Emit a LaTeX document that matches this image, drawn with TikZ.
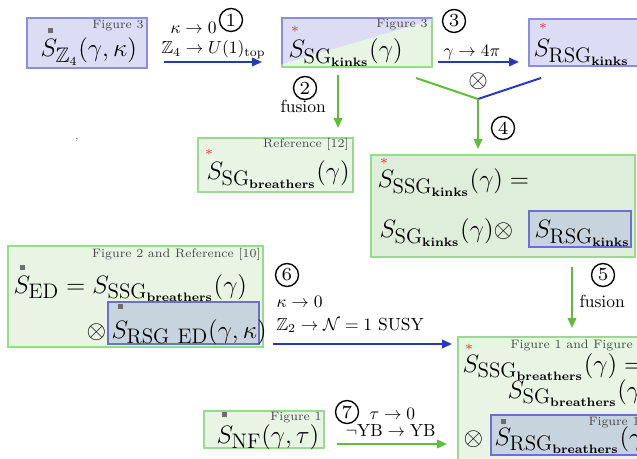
\RequirePackage{fix-cm}
\documentclass[tikz,border=0pt]{standalone}
\usepackage{amsmath,amssymb,graphicx}
\usetikzlibrary{arrows.meta,fit}
\DeclareMathSizes{14.4}{14.4}{12}{7}
\definecolor{bfill}{RGB}{220,221,245}
\definecolor{bline}{RGB}{140,140,230}
\definecolor{gfill}{RGB}{232,245,228}
\definecolor{gfilldark}{RGB}{222,238,218}
\definecolor{gline}{RGB}{150,220,140}
\definecolor{ifill}{RGB}{199,212,221}
\definecolor{iline}{RGB}{110,110,205}
\definecolor{barrow}{RGB}{40,55,190}
\definecolor{garrow}{RGB}{95,190,55}
\definecolor{markgray}{RGB}{110,110,110}
\definecolor{starred}{RGB}{235,50,70}
\newcommand\MT[1]{\scalebox{0.7}{\fontsize{14.4}{17}\selectfont$#1$}}
\newcommand\FT[1]{\scalebox{0.7}{\fontsize{7}{8}\selectfont #1}}
\newcommand\AT[1]{\scalebox{0.7}{\fontsize{10}{12}\selectfont #1}}
\tikzset{
 bbox/.style={draw=bline, fill=bfill, line width=0.5pt, inner sep=0pt},
 gbox/.style={draw=gline, fill=gfill, line width=0.5pt, inner sep=0pt},
 ibox/.style={draw=iline, fill=ifill, line width=0.5pt, inner sep=0pt},
 mtext/.style={anchor=base west, inner sep=0pt},
 figlab/.style={anchor=base east, inner sep=0pt, text=black!72},
 arrlab/.style={anchor=base west, inner sep=0pt},
 circnum/.style={circle, draw, line width=0.55pt, minimum size=9.2pt, inner sep=0pt, font=\fontsize{7.4}{8}\selectfont},
 starmark/.style={inner sep=0pt, text=starred, font=\fontsize{5.5}{6}\selectfont},
 sqmark/.style={fill=markgray, minimum size=2pt, inner sep=0pt},
 barr/.style={draw=barrow, line width=0.8pt, -{Triangle[length=4pt,width=3.4pt]}},
 garr/.style={draw=garrow, line width=0.8pt, -{Triangle[length=4pt,width=3.4pt]}},
}
\begin{document}
\begin{tikzpicture}[x=0.4pt,y=-0.4pt]
\useasboundingbox (0,0) rectangle (637,458);
\clip (0,0) rectangle (637,458);

% ---- boxes ----
\node[bbox, fit={(27,18)(147,68)}] (z4) {};
\node[gbox, fit={(282,18)(432,67)}] (sgk) {};
\fill[bfill] (282,18) -- (432,18) -- (432,20) -- (282,64) -- cycle;
\draw[bline, line width=0.5pt] (282,64) -- (282,18) -- (432,18);
\node[bbox, fit={(529,19)(660,66)}] (rsgk) {};
\node[gbox, fit={(198,138)(353,192)}] (sgb) {};
\node[gbox, fill=gfilldark, fit={(371,155)(635,257)}] (ssgk) {};
\node[ibox, fit={(529,211)(631,247)}] (ssgkin) {};
\node[gbox, fit={(8,246)(263,347)}] (ed) {};
\node[ibox, fit={(108,302)(259,344)}] (edin) {};
\node[gbox, fit={(204,411)(324,448)}] (nf) {};
\node[gbox, fit={(458,337)(660,470)}] (ssgb) {};
\node[ibox, fit={(491,415)(660,455)}] (ssgbin) {};

% ---- box labels ----
\node[figlab] (l1) at (144,29) {\FT{Figure 3}};
\node[figlab] (l2) at (428,28) {\FT{Figure 3}};
\node[figlab] (l3) at (349,148) {\FT{Reference [12]}};
\node[figlab] (l4) at (261,258) {\FT{Figure 2 and Reference [10]}};
\node[figlab] (l5) at (322,420) {\FT{Figure 1}};
\node[figlab, anchor=base west] (l6) at (510,348) {\FT{Figure 1 and Figure 2}};
\node[figlab, anchor=base west] (l7) at (588,425) {\FT{Figure 1}};

% ---- box texts ----
\node[mtext] (t1) at (40,57) {\MT{S_{\mathbb{Z}_4}(\gamma,\kappa)}};
\node[sqmark] (m1) at (50,31) {};
\node[mtext] (t2) at (288,58) {\MT{S_{\mathrm{SG}_{\mathbf{kinks}}}(\gamma)}};
\node[starmark] (s2) at (295,31) {*};
\node[mtext] (t3) at (533,57) {\MT{S_{\mathrm{RSG}_{\mathbf{kinks}}}}};
\node[starmark] (s3) at (543,28) {*};
\node[mtext] (t4) at (206,180) {\MT{S_{\mathrm{SG}_{\mathbf{breathers}}}(\gamma)}};
\node[starmark] (s4) at (209,154) {*};
\node[mtext] (t5) at (377,188) {\MT{S_{\mathrm{SSG}_{\mathbf{kinks}}}(\gamma) =}};
\node[starmark] (s5) at (384,163) {*};
\node[mtext] (t6) at (379,238) {\MT{S_{\mathrm{SG}_{\mathbf{kinks}}}(\gamma) \otimes}};
\node[mtext] (t7) at (534,238) {\MT{S_{\mathrm{RSG}_{\mathbf{kinks}}}}};
\node[mtext] (t8) at (13,293) {\MT{S_{\mathrm{ED}} = S_{\mathrm{SSG}_{\mathbf{breathers}}}(\gamma)}};
\node[sqmark] (m8) at (22,267) {};
\node[mtext] (t9) at (86,338) {\MT{\otimes}};
\node[mtext] (t10) at (111,338) {\MT{S_{\mathrm{RSG\ ED}}(\gamma,\kappa)}};
\node[sqmark] (m10) at (120,306) {};
\node[mtext] (t11) at (216,443) {\MT{S_{\mathrm{NF}}(\gamma,\tau)}};
\node[sqmark] (m11) at (224,414) {};
\node[mtext] (t12) at (462,372) {\MT{S_{\mathrm{SSG}_{\mathbf{breathers}}}(\gamma) =}};
\node[starmark] (s12) at (469,349) {*};
\node[mtext] (t13) at (507,398) {\MT{S_{\mathrm{SG}_{\mathbf{breathers}}}(\gamma)}};
\node[mtext] (t14) at (463,445) {\MT{\otimes}};
\node[mtext] (t15) at (494,445) {\MT{S_{\mathrm{RSG}_{\mathbf{breathers}}}(\gamma)}};
\node[sqmark] (m15) at (503,421) {};

% ---- stray comma ----
\node[inner sep=0pt, text=black!60, font=\fontsize{4}{4}\selectfont] (cm) at (77,140) {,};

% ---- connectors ----
\coordinate (a1s) at (164,62); \coordinate (a1e) at (262,62);
\draw[barr] (a1s) -- (a1e);
\node[arrlab] (k1) at (170,34) {\AT{$\kappa \to 0$}};
\node[arrlab] (k1b) at (161,54) {\AT{$\mathbb{Z}_4 \to U(1)_{\mathrm{top}}$}};
\node[circnum] (c1) at (231,20) {1};

\coordinate (a2s) at (338,75); \coordinate (a2e) at (338,128);
\draw[garr] (a2s) -- (a2e);
\node[circnum] (c2) at (305,88) {2};
\node[arrlab] (f2) at (280,113) {\AT{fusion}};

\coordinate (a3s) at (438,62); \coordinate (a3e) at (519,62);
\draw[barr] (a3s) -- (a3e);
\node[circnum] (c3) at (454,21) {3};
\node[arrlab] (g3) at (443,57) {\AT{$\gamma \to 4\pi$}};

\coordinate (yl) at (416,78); \coordinate (yc) at (478,99); \coordinate (yr) at (541,78);
\coordinate (a4e) at (478,149);
\draw[draw=garrow, line width=0.8pt] (yl) -- (yc);
\draw[draw=barrow, line width=0.8pt] (yc) -- (yr);
\draw[garr] (yc) -- (a4e);
\node[inner sep=0pt, font=\fontsize{10}{12}\selectfont] (ot) at (478,81) {$\otimes$};
\node[circnum] (c4) at (503,128) {4};

\coordinate (a5s) at (572,267); \coordinate (a5e) at (572,328);
\draw[garr] (a5s) -- (a5e);
\node[circnum] (c5) at (603,275) {5};
\node[arrlab] (f5) at (579,307) {\AT{fusion}};

\coordinate (a6s) at (273,344); \coordinate (a6e) at (452,344);
\draw[barr] (a6s) -- (a6e);
\node[circnum] (c6) at (287,275) {6};
\node[arrlab] (k6) at (276,307) {\AT{$\kappa \to 0$}};
\node[arrlab] (z6) at (276,330) {\AT{$\mathbb{Z}_2 \to \mathcal{N} = 1$ SUSY}};

\coordinate (a7s) at (337,444); \coordinate (a7e) at (447,444);
\draw[garr] (a7s) -- (a7e);
\node[circnum] (c7) at (347,412) {7};
\node[arrlab] (t7a) at (369,419) {\AT{$\tau \to 0$}};
\node[arrlab] (t7b) at (345,436) {\AT{$\neg\mathrm{YB} \to \mathrm{YB}$}};
\end{tikzpicture}
\end{document}
